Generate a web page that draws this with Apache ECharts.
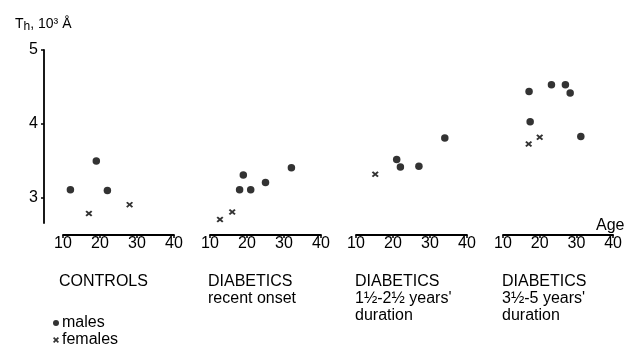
<!DOCTYPE html>
<html><head><meta charset="utf-8">
<script src="https://cdn.jsdelivr.net/npm/echarts@6/dist/echarts.min.js"></script>
<style>html,body{margin:0;padding:0;background:#fff}#c{width:625px;height:351px}</style>
</head><body><div id="c"></div>
<script>
// ---- data ----
const panelNames = ['CONTROLS', 'DIABETICS\nrecent onset', 'DIABETICS\n1½-2½ years\'\nduration', 'DIABETICS\n3½-5 years\'\nduration'];
const xTicks = [10, 20, 30, 40];
const yTicks = [3, 4, 5];
const controlsMales = [[12, 3.11], [19, 3.50], [22, 3.10]];
const controlsFemales = [[17, 2.79], [28, 2.91]];
const recentMales = [[18, 3.11], [19, 3.31], [21, 3.11], [25, 3.21], [32, 3.41]];
const recentFemales = [[12.7, 2.71], [16, 2.81]];
const midMales = [[21, 3.52], [22, 3.42], [27, 3.43], [34, 3.81]];
const midFemales = [[15.2, 3.32]];
const longMales = [[17.1, 4.44], [17.4, 4.03], [23.2, 4.53], [27, 4.53], [28.3, 4.42], [31.2, 3.83]];
const longFemales = [[17, 3.73], [20, 3.82]];

const malesByPanel = [controlsMales, recentMales, midMales, longMales];
const femalesByPanel = [controlsFemales, recentFemales, midFemales, longFemales];

// ---- layout ----
const INK = '#000';
const FONT = '"Liberation Sans", Arial, sans-serif';
const crossPath = 'path://M0,2L2,0L5,3L8,0L10,2L7,5L10,8L8,10L5,7L2,10L0,8L3,5Z';
const panelLeft = [63, 210, 356, 503];
const panelTextLeft = [54, 203, 350, 497];

const grids = [{left: 44, width: 1, top: 50, height: 173}];
const xAxes = [{gridIndex: 0, type: 'value', show: false, min: 0, max: 1}];
const yAxes = [{
  gridIndex: 0, type: 'value', min: 2.66, max: 5,
  axisLine: {show: true, onZero: false, lineStyle: {color: INK, width: 1.8}},
  axisTick: {show: true, length: 3, customValues: yTicks, lineStyle: {color: INK, width: 1.5}},
  axisLabel: {customValues: yTicks, color: INK, fontSize: 16, fontFamily: FONT, margin: 6},
  splitLine: {show: false}
}];
const series = [];
const titles = [{
  text: 'T{s|h}, 10³ Å', left: 10, top: 10,
  textStyle: {color: INK, fontSize: 14, fontWeight: 'normal', fontFamily: FONT,
    rich: {s: {fontSize: 12, color: INK, fontFamily: FONT, padding: [6, 0, 0, 0]}}}
}, {
  text: 'Age', left: 591, top: 213,
  textStyle: {color: INK, fontSize: 16, fontWeight: 'normal', fontFamily: FONT}
}];

panelLeft.forEach((l, i) => {
  const g = i + 1;
  grids.push({left: l, width: 111, top: 50, height: 185});
  xAxes.push({
    gridIndex: g, type: 'value', min: xTicks[0], max: xTicks[xTicks.length - 1], interval: 10,
    axisLine: {show: true, onZero: false, lineStyle: {color: INK, width: 1.8}},
    axisTick: {show: true, length: 3, lineStyle: {color: INK, width: 1.5}},
    axisLabel: {color: INK, fontSize: 16, fontFamily: FONT, margin: 1},
    splitLine: {show: false}
  });
  yAxes.push({gridIndex: g, type: 'value', min: 2.5, max: 5, show: false, splitLine: {show: false}});
  series.push({
    name: 'males', type: 'scatter', xAxisIndex: g, yAxisIndex: g,
    symbol: 'circle', symbolSize: 7.5, itemStyle: {color: INK}, data: malesByPanel[i]
  });
  series.push({
    name: 'females', type: 'scatter', xAxisIndex: g, yAxisIndex: g,
    symbol: crossPath, symbolSize: [7, 6], itemStyle: {color: INK}, data: femalesByPanel[i]
  });
  titles.push({
    text: panelNames[i], left: panelTextLeft[i], top: 268,
    textStyle: {color: INK, fontSize: 16, fontWeight: 'normal', fontFamily: FONT, lineHeight: 17}
  });
});

const chart = echarts.init(document.getElementById('c'), null, {renderer: 'canvas'});
chart.setOption({
  animation: false,
  backgroundColor: '#fff',
  title: titles,
  grid: grids,
  xAxis: xAxes,
  yAxis: yAxes,
  legend: {
    orient: 'vertical', left: 53, top: 315, padding: 0, itemGap: 1,
    itemWidth: 6, itemHeight: 6,
    textStyle: {color: INK, fontSize: 16, fontFamily: FONT, padding: [0, 0, 0, -2]},
    data: [{name: 'males', icon: 'circle'}, {name: 'females', icon: crossPath}]
  },
  series: series
});
</script>
</body></html>
